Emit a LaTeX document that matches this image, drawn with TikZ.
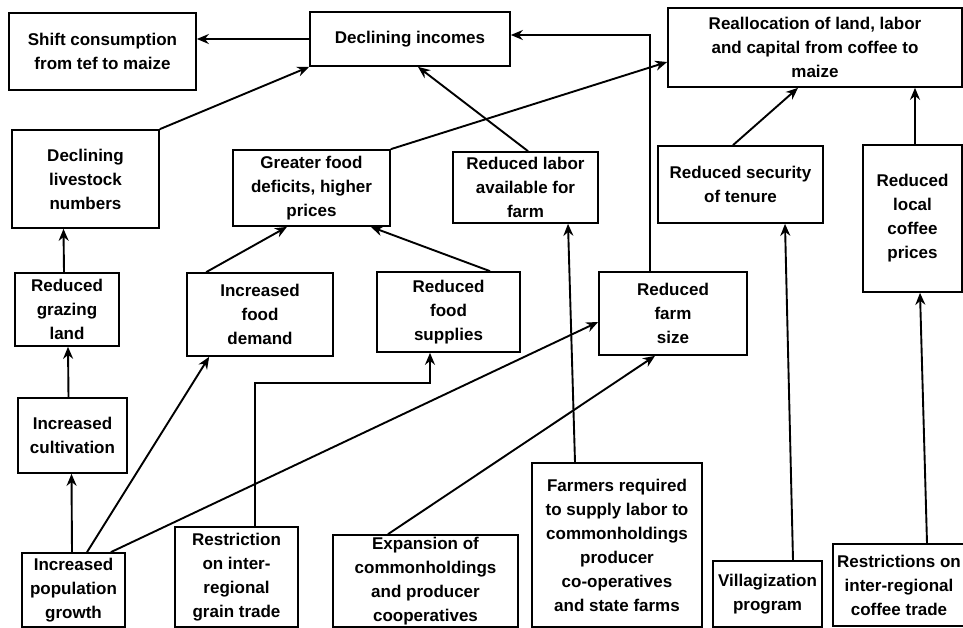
\documentclass[tikz,border=0pt]{standalone}
\usepackage{fontspec}
\setmainfont{Liberation Sans}
\usetikzlibrary{arrows.meta,calc}
\tikzset{
  box/.style={draw, line width=1.7pt, align=center, inner sep=2pt,
    font=\fontsize{17}{24}\selectfont\bfseries},
  arr/.style={line width=1.9pt, -{Stealth[length=12pt,width=10pt]}}
}
\begin{document}
\begin{tikzpicture}[x=1pt,y=-1pt]
\useasboundingbox (0,0) rectangle (963,628);
\clip (0,0) rectangle (963,628);
% nodes
\node[box, minimum width=187, minimum height=77] (shift) at (102.5,51.5) {Shift consumption\\from tef to maize};
\node[box, minimum width=200, minimum height=54] (incomes) at (410,39) {Declining incomes};
\node[box, minimum width=294, minimum height=79] (realloc) at (815,47.5) {Reallocation of land, labor\\and capital from coffee to\\maize};
\node[box, minimum width=147, minimum height=98] (livestock) at (85.5,179) {Declining\\livestock\\numbers};
\node[box, minimum width=157, minimum height=76] (deficits) at (311.5,188) {Greater food\\deficits, higher\\prices};
\node[box, minimum width=145, minimum height=71] (labor) at (525.5,187.5) {Reduced labor\\available for\\farm};
\node[box, minimum width=165, minimum height=77] (security) at (740.5,184.5) {Reduced security\\of tenure};
\node[box, minimum width=99, minimum height=147] (cprices) at (912.5,218.5) {Reduced\\local\\coffee\\prices};
\node[box, minimum width=104, minimum height=73] (grazing) at (67,309.5) {Reduced\\grazing\\land};
\node[box, minimum width=146, minimum height=83] (demand) at (260,314.5) {Increased\\food\\demand};
\node[box, minimum width=143, minimum height=80] (supplies) at (448.5,312) {Reduced\\food\\supplies};
\node[box, minimum width=148, minimum height=83] (farm) at (673,313.5) {Reduced\\farm\\size};
\node[box, minimum width=109, minimum height=75] (cultiv) at (72.5,435.5) {Increased\\cultivation};
\node[box, minimum width=103, minimum height=74] (pop) at (73.5,590) {Increased\\population\\growth};
\node[box, minimum width=123, minimum height=100] (grain) at (236.5,577) {Restriction\\on inter-\\regional\\grain trade};
\node[box, minimum width=185, minimum height=92] (expan) at (425.5,581) {Expansion of\\commonholdings\\and producer\\cooperatives};
\node[box, minimum width=170, minimum height=164] (farmers) at (617,545) {Farmers required\\to supply labor to\\commonholdings\\producer\\co-operatives\\and state farms};
\node[box, minimum width=109, minimum height=66] (villag) at (767.5,594) {Villagization\\program};
\node[box, minimum width=132, minimum height=82] (ctrade) at (899,585) {Restrictions on\\inter-regional\\coffee trade};
% connectors
\draw[arr] (incomes.west) -- (incomes.west -| shift.east);
\draw[arr] (livestock.north east) -- (incomes.south west);
\draw[arr] (deficits.north east) -- ($(realloc.west)+(0,14.5)$);
\draw[arr] ($(labor.north)+(2.5,0)$) -- ($(incomes.south)+(8,0)$);
\draw[arr] ($(farm.north)+(-23,0)$) |- ($(incomes.east)+(0,-4)$);
\draw[arr] ($(security.north)+(-7.5,0)$) -- ($(realloc.south)+(-17,0)$);
\draw[arr] ($(cprices.north)+(2.5,0)$) -- ($(realloc.south)+(100,0)$);
\draw[arr] ($(grazing.north)+(-3,0)$) -- ($(livestock.south)+(-22,0)$);
\draw[arr] ($(cultiv.north)+(-4,0)$) -- ($(grazing.south)+(1,0)$);
\draw[arr] ($(pop.north)+(-1.5,0)$) -- ($(cultiv.south)+(-1,0)$);
\draw[arr] ($(pop.north)+(13.5,0)$) -- ($(demand.south west)+(23,0)$);
\draw[arr] ($(pop.north east)+(-15,0)$) -- ($(farm.west)+(0,8.5)$);
\draw[arr] ($(demand.north west)+(20,0)$) -- ($(deficits.south)+(-24.5,0)$);
\draw[arr] ($(supplies.north)+(41.5,0)$) -- ($(deficits.south east)+(-20,0)$);
\draw[arr] ($(grain.north)+(18.5,0)$) -- ++(0,-143) -| ($(supplies.south)+(-18.5,0)$);
\draw[arr] ($(expan.north)+(-37.5,0)$) -- ($(farm.south)+(-18,0)$);
\draw[arr] ($(farmers.north)+(-42,0)$) -- ($(labor.south)+(42.5,0)$);
\draw[arr] ($(villag.north)+(25.5,0)$) -- ($(security.south)+(44.5,0)$);
\draw[arr] ($(ctrade.north)+(28,0)$) -- ($(cprices.south)+(7.5,0)$);
\end{tikzpicture}
\end{document}
